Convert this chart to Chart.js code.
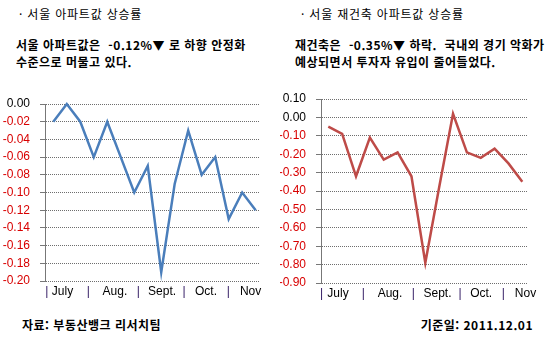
<!DOCTYPE html>
<html lang="ko">
<head>
<meta charset="utf-8">
<title>서울 아파트값 상승률</title>
<script src="https://cdn.jsdelivr.net/npm/chart.js@4.4.1/dist/chart.umd.min.js"></script>
<style>
  html, body { margin: 0; padding: 0; background: #fff; }
  body { position: relative; width: 560px; height: 337px; overflow: hidden;
         font-family: "Noto Sans CJK KR", sans-serif; color: #000; }
  .txt { position: absolute; white-space: pre; font-size: 12px; line-height: 16px; }
  .head { letter-spacing: 0.8px; }
  .b { font-weight: bold; letter-spacing: 0.5px; }
  .panel { position: absolute; top: 90px; width: 280px; height: 220px; }
</style>
</head>
<body>

<div class="txt head" style="left:19px; top:6px;">· 서울 아파트값 상승률</div>
<div class="txt b" style="left:16px; top:37px;">서울 아파트값은  -0.12%▼ 로 하향 안정화</div>
<div class="txt b" style="left:16px; top:54px;">수준으로 머물고 있다.</div>

<div class="txt head" style="left:301px; top:6px;">· 서울 재건축 아파트값 상승률</div>
<div class="txt b" style="left:295px; top:37px;">재건축은  -0.35%▼ 하락.  국내외 경기 악화가</div>
<div class="txt b" style="left:295px; top:54px;">예상되면서 투자자 유입이 줄어들었다.</div>

<div class="panel" style="left:0;"><canvas id="seoulChart" width="280" height="220"></canvas></div>
<div class="panel" style="left:280px;"><canvas id="rebuildChart" width="280" height="220"></canvas></div>

<div class="txt b" style="left:22px; top:317px;">자료: 부동산뱅크 리서치팀</div>
<div class="txt b" style="right:27px; top:317px;">기준일: 2011.12.01</div>

<script>
/* ------------------------------------------------------------------
   DATA — weekly change (%), July to November 2011
   ------------------------------------------------------------------ */
var MONTHS = ['July', 'Aug.', 'Sept.', 'Oct.', 'Nov'];

// 서울 아파트값
var SEOUL_VALUES = [-0.02, 0.00, -0.02, -0.06, -0.02, -0.06, -0.10, -0.07,
                    -0.19, -0.09, -0.03, -0.08, -0.06, -0.13, -0.10, -0.12];
var SEOUL_Y_TICKS = [0.00, -0.02, -0.04, -0.06, -0.08, -0.10, -0.12, -0.14, -0.16, -0.18, -0.20];
var SEOUL_MONTH_AT = [0.68, 4.57, 8.06, 11.32, 14.62];   // week index under each month name
var SEOUL_SPLIT_AT = [-0.49, 2.6, 6.3, 9.7, 12.97];      // month divider marks

// 서울 재건축 아파트값
var REBUILD_VALUES = [-0.05, -0.09, -0.32, -0.11, -0.23, -0.19, -0.32, -0.79,
                      -0.38, 0.02, -0.19, -0.22, -0.17, -0.25, -0.35];
var REBUILD_Y_TICKS = [0.10, 0.00, -0.10, -0.20, -0.30, -0.40, -0.50, -0.60, -0.70, -0.80, -0.90];
var REBUILD_MONTH_AT = [0.7, 4.45, 7.88, 11.03, 14.23];
var REBUILD_SPLIT_AT = [-0.48, 2.52, 6.13, 9.5, 12.63];

/* ------------------------------------------------------------------
   COLOURS
   ------------------------------------------------------------------ */
var COLORS = {
  blue:     '#4a7ebb',
  red:      '#be4b48',
  axis:     '#777777',
  grid:     '#6e6e6e',
  negative: '#d80000',
  text:     '#000000',
  divider:  '#2e1660',
};

var TICK_FONT = { family: "'Liberation Sans', Arial, sans-serif", size: 12 };

/* ------------------------------------------------------------------
   Month labels with divider marks between them, as x-axis ticks
   ------------------------------------------------------------------ */
function buildMonthTicks(monthAt, splitAt) {
  var ticks = [];
  monthAt.forEach(function (v, i) { ticks.push({ value: v, label: MONTHS[i], divider: false }); });
  splitAt.forEach(function (v) { ticks.push({ value: v, label: '|', divider: true }); });
  ticks.sort(function (a, b) { return a.value - b.value; });
  return ticks;
}

/* ------------------------------------------------------------------
   One line panel: dotted grid, solid y axis with short ticks,
   negative y labels in red
   ------------------------------------------------------------------ */
function makeLineChart(canvasId, values, yTicks, monthAt, splitAt, color, box) {
  var canvas = document.getElementById(canvasId);
  var xTicks = buildMonthTicks(monthAt, splitAt);
  var points = values.map(function (v, i) { return { x: i, y: v }; });
  var yMax = Math.max.apply(null, yTicks);
  var yMin = Math.min.apply(null, yTicks);

  return new Chart(canvas, {
    type: 'line',
    data: {
      datasets: [{
        data: points,
        borderColor: color,
        borderWidth: 2.5,
        pointRadius: 0,
        tension: 0,
        clip: 4,
      }],
    },
    options: {
      responsive: false,
      animation: false,
      layout: { padding: { top: box.top, right: box.right, left: 0, bottom: 0 } },
      plugins: { legend: { display: false }, tooltip: { enabled: false } },
      scales: {
        x: {
          type: 'linear',
          min: box.xMin,
          max: box.xMax,
          grid: { display: false, drawTicks: false },
          border: { display: false },
          afterBuildTicks: function (scale) {
            scale.ticks = xTicks.map(function (t) { return { value: t.value }; });
          },
          afterFit: function (scale) { scale.height = box.xHeight; },
          ticks: {
            autoSkip: false,
            maxRotation: 0,
            minRotation: 0,
            padding: box.xPad,
            font: TICK_FONT,
            color: function (ctx) {
              return xTicks[ctx.index] && xTicks[ctx.index].divider ? COLORS.divider : COLORS.text;
            },
            callback: function (v, i) { return xTicks[i].label; },
          },
        },
        y: {
          type: 'linear',
          min: yMin,
          max: yMax,
          afterBuildTicks: function (scale) {
            scale.ticks = yTicks.map(function (v) { return { value: v }; });
          },
          afterFit: function (scale) {
            scale.width = box.yWidth;
            // plot edges are set by the layout padding alone
            scale.paddingTop = 0;
            scale.paddingBottom = 0;
          },
          grid: {
            color: COLORS.grid,
            lineWidth: 1,
            tickColor: COLORS.axis,
            tickLength: 5,
          },
          border: { display: true, color: COLORS.axis, width: 1, dash: [1, 1] },
          ticks: {
            autoSkip: false,
            padding: 10,
            font: TICK_FONT,
            color: function (ctx) {
              return ctx.tick && ctx.tick.value < -1e-9 ? COLORS.negative : COLORS.text;
            },
            callback: function (v) { return (Math.round(v * 100) / 100).toFixed(2); },
          },
        },
      },
    },
  });
}

function initCharts() {
  if (typeof Chart === 'undefined') return;

  makeLineChart('seoulChart', SEOUL_VALUES, SEOUL_Y_TICKS, SEOUL_MONTH_AT, SEOUL_SPLIT_AT, COLORS.blue, {
    top: 14, right: 20, yWidth: 45, xHeight: 29, xPad: 3, xMin: -0.615, xMax: 15.32,
  });
  makeLineChart('rebuildChart', REBUILD_VALUES, REBUILD_Y_TICKS, REBUILD_MONTH_AT, REBUILD_SPLIT_AT, COLORS.red, {
    top: 9, right: 32, yWidth: 41, xHeight: 27, xPad: 3, xMin: -0.527, xMax: 14.41,
  });
}

initCharts();
</script>
</body>
</html>
